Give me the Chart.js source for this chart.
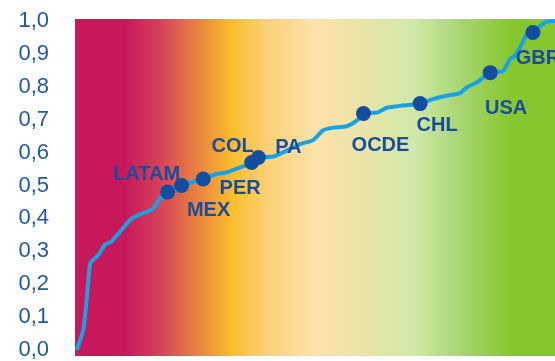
<!DOCTYPE html>
<html>
<head>
<meta charset="utf-8">
<script src="https://cdn.jsdelivr.net/npm/chart.js@4/dist/chart.umd.min.js"></script>
<style>
  body { margin: 0; background: #fff; }
  #wrap { width: 555px; height: 361px; }
</style>
</head>
<body>
<div id="wrap"><canvas id="chart" width="555" height="361"></canvas></div>
<script>
// curve: position along the ranking (0-100) and index value
const rankPos = [0.35, 1.7, 2.4, 3.1, 3.5, 4.9, 6.25, 7.6, 9.4, 11.8, 13.2, 14.9, 16.3, 17.7,
  19.3, 22.2, 24.3, 26.7, 29.5, 31.6, 34.4, 36.8, 38.2, 41.3, 44.1, 46.9, 49.6, 51.7, 53.8,
  56.6, 58.7, 60.1, 62.9, 65.1, 67.7, 71.9, 74.6, 77.4, 80.2, 81.6, 83.7, 86.5, 89.2, 90.6,
  91.7, 93.1, 94.1, 95.4, 96.9, 98.3, 100];
const indexValues = [0.0, 0.06, 0.15, 0.26, 0.27, 0.29, 0.32, 0.33, 0.36, 0.40, 0.41, 0.42, 0.43, 0.46,
  0.48, 0.50, 0.51, 0.52, 0.535, 0.54, 0.555, 0.57, 0.585, 0.588, 0.606, 0.626, 0.638, 0.668, 0.676,
  0.68, 0.697, 0.719, 0.722, 0.737, 0.742, 0.749, 0.763, 0.773, 0.781, 0.798, 0.813, 0.843, 0.848, 0.884,
  0.894, 0.93, 0.96, 0.965, 0.985, 0.998, 1.0];

// highlighted countries
const countryLabels = ['LATAM', 'MEX', 'PER', 'COL', 'PA', 'OCDE', 'CHL', 'USA', 'GBR'];
const countryRank = [19.3, 22.2, 26.7, 36.8, 38.2, 60.1, 71.9, 86.5, 95.4];
const countryValues = [0.48, 0.50, 0.52, 0.57, 0.585, 0.719, 0.749, 0.843, 0.965];

const yTicks = [0, 0.1, 0.2, 0.3, 0.4, 0.5, 0.6, 0.7, 0.8, 0.9, 1.0];

// label offsets from their dot, in pixels
const labelOffsets = [[-21, -18], [27, 25], [37, 10], [-19, -16], [30, -10], [17, 32], [17, 22], [16, 36], [5, 26]];

const bgStops = [
  [0, '#c8185c'], [0.104, '#c8185c'], [0.177, '#d5425a'], [0.265, '#ec8a3c'],
  [0.327, '#fbbd2d'], [0.406, '#fcd27a'], [0.5, '#fde2aa'], [0.615, '#e6e4a8'],
  [0.708, '#d0e9aa'], [0.802, '#a8d672'], [0.91, '#86c62e'], [1, '#86c62e']
];

const backgroundPlugin = {
  id: 'bgGradient',
  beforeDraw(chart) {
    const { ctx, chartArea: a } = chart;
    const g = ctx.createLinearGradient(a.left, 0, a.right, 0);
    bgStops.forEach(s => g.addColorStop(s[0], s[1]));
    ctx.save();
    ctx.fillStyle = g;
    ctx.fillRect(a.left, a.top, a.right - a.left, a.bottom - a.top);
    ctx.restore();
  }
};

const labelPlugin = {
  id: 'countryLabels',
  afterDatasetsDraw(chart) {
    const { ctx, scales } = chart;
    ctx.save();
    ctx.font = 'bold 20px "Liberation Sans", Arial, sans-serif';
    ctx.fillStyle = '#1a4c9c';
    ctx.textAlign = 'center';
    ctx.textBaseline = 'middle';
    countryLabels.forEach((name, i) => {
      const px = scales.x.getPixelForValue(countryRank[i]);
      const py = scales.y.getPixelForValue(countryValues[i]);
      ctx.fillText(name, px + labelOffsets[i][0], py + labelOffsets[i][1]);
    });
    ctx.restore();
  }
};

new Chart(document.getElementById('chart'), {
  type: 'scatter',
  data: {
    datasets: [
      {
        data: countryRank.map((x, i) => ({ x, y: countryValues[i] })),
        showLine: false,
        pointRadius: 7.5,
        pointBackgroundColor: '#134d9f',
        pointBorderWidth: 0,
        order: 0
      },
      {
        data: rankPos.map((x, i) => ({ x, y: indexValues[i] })),
        showLine: true,
        borderColor: '#17a3e3',
        borderWidth: 4,
        pointRadius: 0,
        tension: 0.2,
        order: 1
      }
    ]
  },
  options: {
    responsive: false,
    animation: false,
    layout: { autoPadding: false, padding: { top: 19, bottom: 5, left: 0, right: 0 } },
    plugins: { legend: { display: false }, tooltip: { enabled: false } },
    scales: {
      x: { type: 'linear', min: 0, max: 100, display: false },
      y: {
        min: -0.018,
        max: 1.006,
        afterBuildTicks(scale) {
          scale.ticks = yTicks.map(v => ({ value: v }));
        },
        afterFit(scale) {
          scale.width = 75;
          scale.paddingTop = 0;
          scale.paddingBottom = 0;
        },
        grid: { display: false, drawTicks: false },
        border: { display: false },
        ticks: {
          padding: 26,
          color: '#2058a8',
          font: { family: '"Liberation Sans", Arial, sans-serif', size: 22 },
          callback: v => v.toFixed(1).replace('.', ',')
        }
      }
    }
  },
  plugins: [backgroundPlugin, labelPlugin]
});
</script>
</body>
</html>
